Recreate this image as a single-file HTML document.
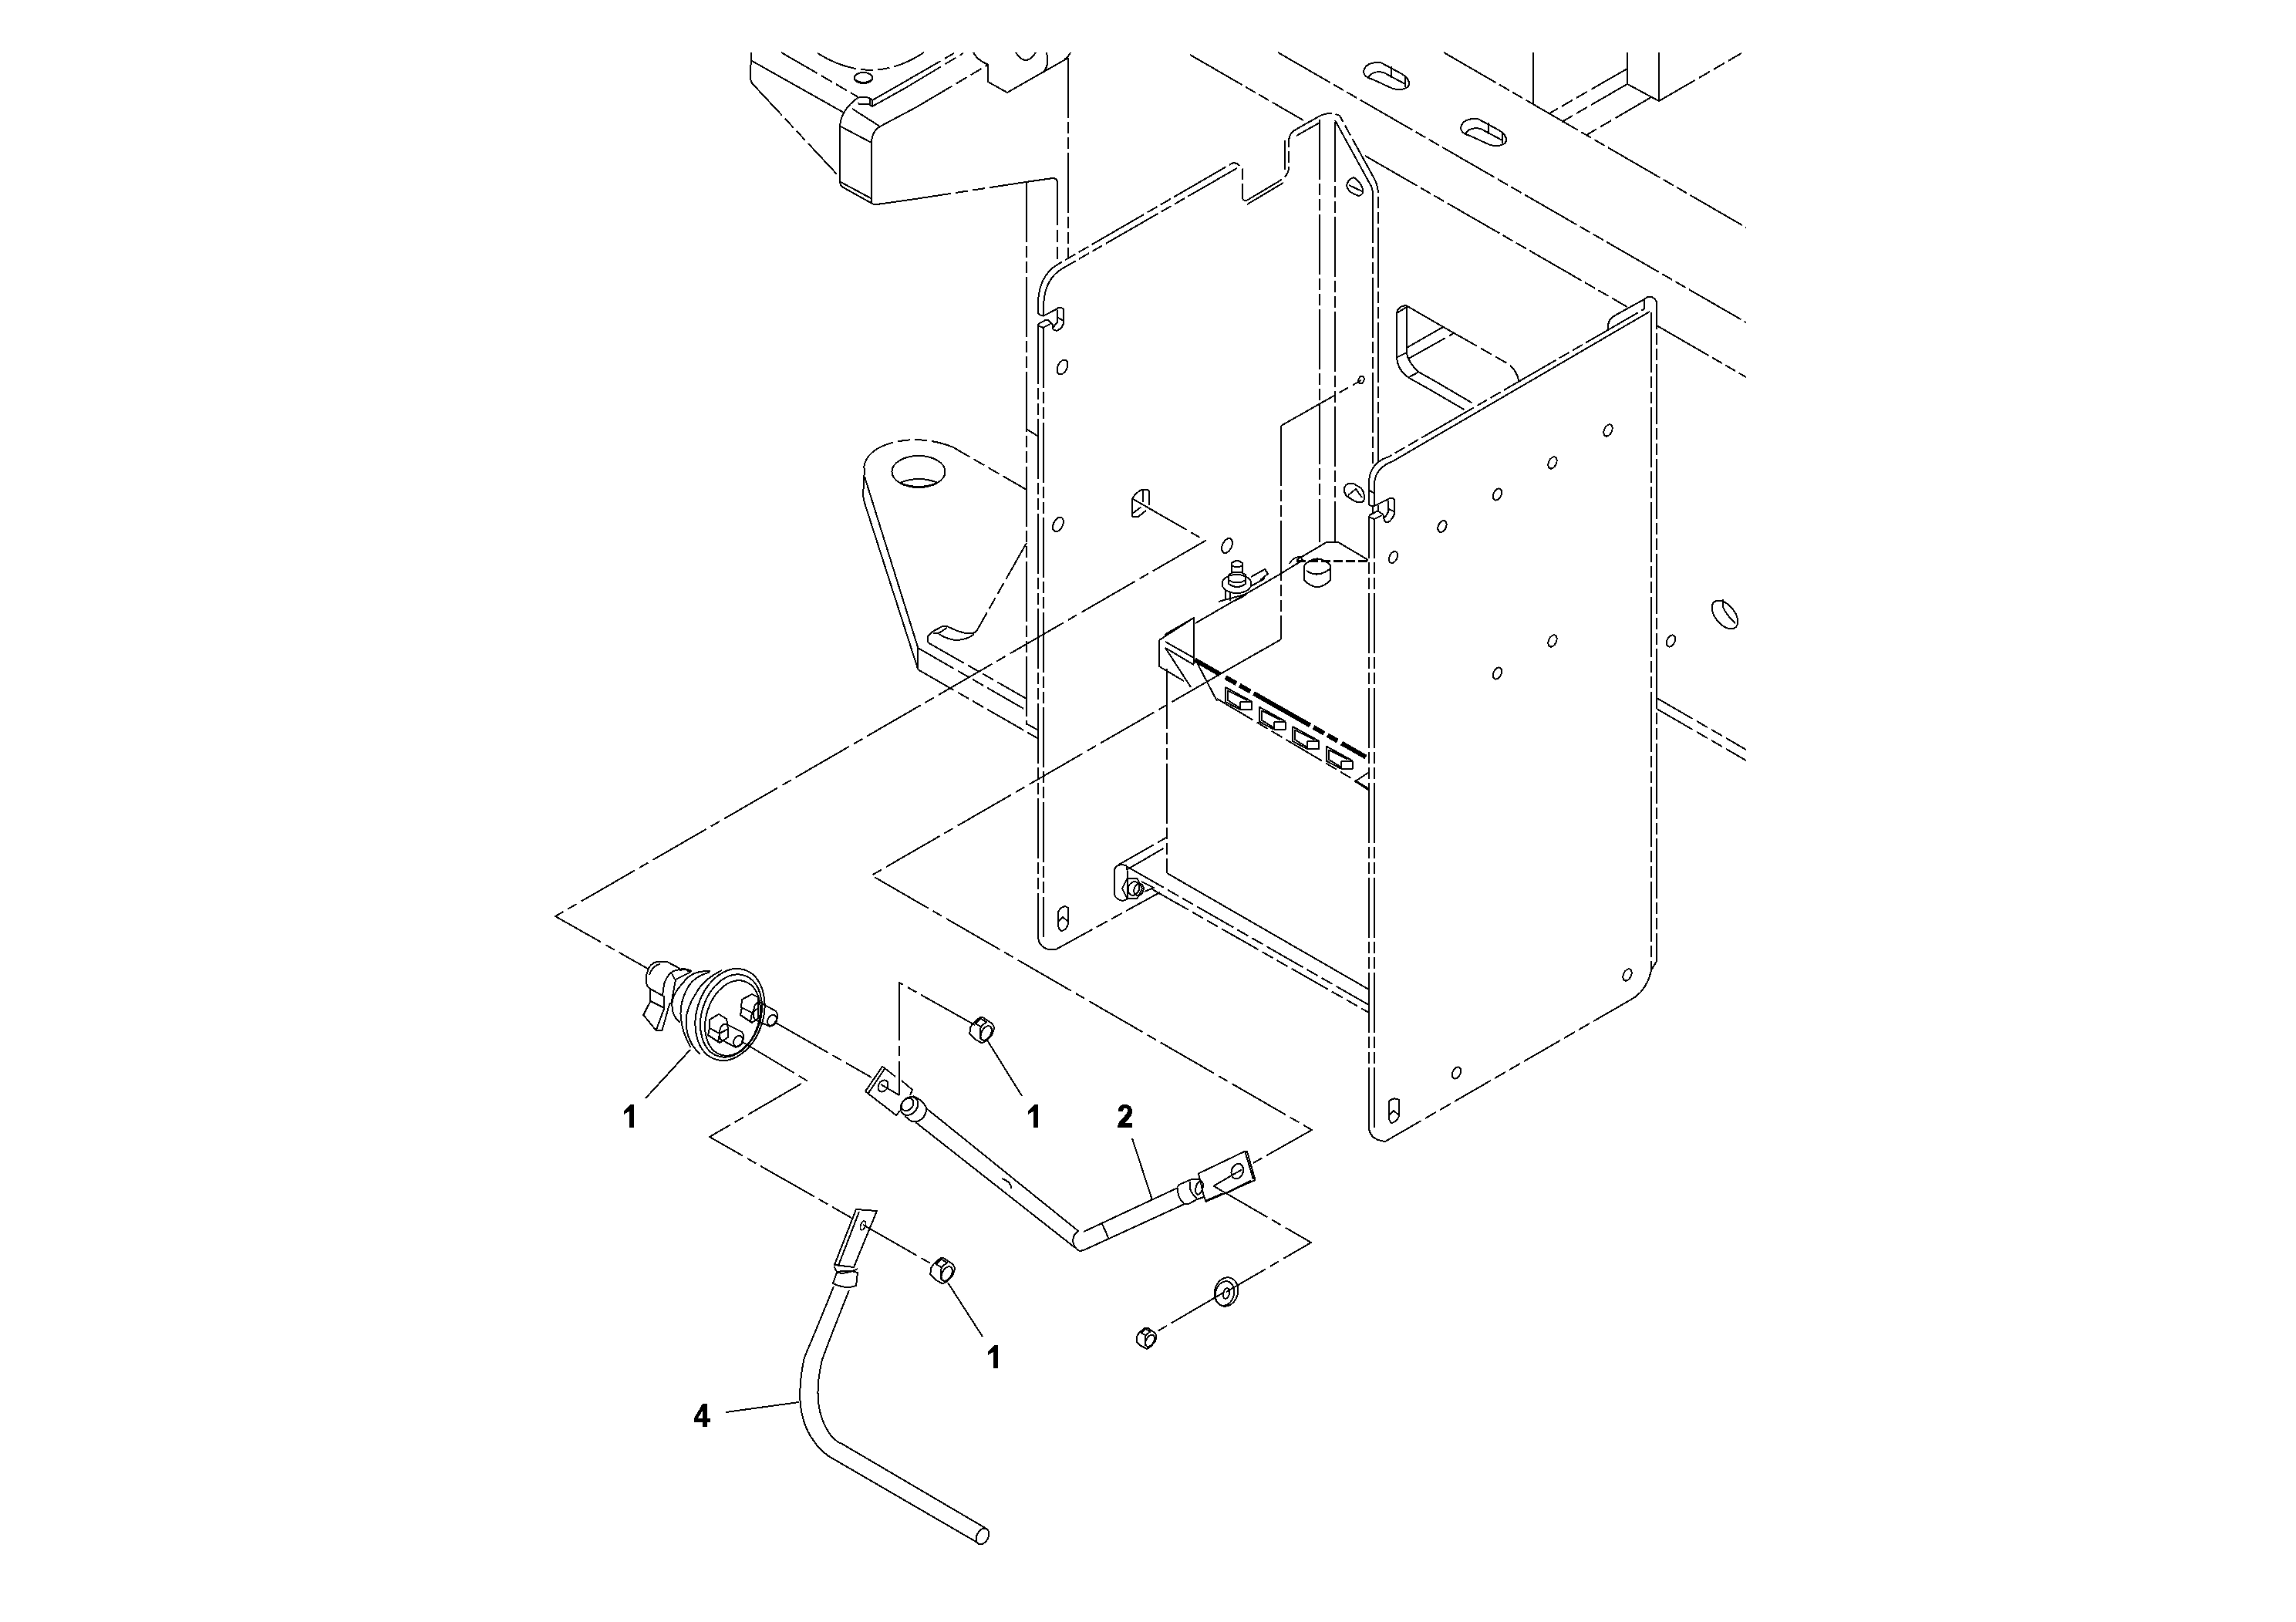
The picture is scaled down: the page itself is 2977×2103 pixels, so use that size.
<!DOCTYPE html>
<html><head><meta charset="utf-8"><style>
html,body{margin:0;padding:0;background:#fff;}
svg{display:block;}
.d{stroke-dasharray:54 6 16 6 16 6;}
.c{stroke-dasharray:80 7 13 7;}
.l{stroke-dasharray:78 5 15 5 15 5;}
.g{fill:#000;stroke:none;}
text{font-family:"Liberation Sans",sans-serif;font-weight:bold;fill:#000;stroke:none;text-anchor:middle;}
</style></head><body>
<svg width="2977" height="2103" viewBox="0 0 2977 2103">
<rect width="2977" height="2103" fill="#fff"/>
<g fill="none" stroke="#000" stroke-width="2" stroke-linejoin="round" shape-rendering="crispEdges">
<path d="M974,68 L973,100 Q973,107 978,111"/>
<path d="M975,79 L1094,146"/>
<path d="M977,110 L1088,229" class="d"/>
<path d="M1013,68 L1113,126" class="d"/>
<path d="M1060,69 Q1130,113 1198,68" class="d"/>
<ellipse cx="1119.5" cy="101" rx="12" ry="7"/>
<path d="M1108,103 Q1119,111 1131,103"/>
<path d="M1113,127 L1116,125.5 L1122,125.5 L1128,127.5 L1131,130 L1131,138 L1126,135 L1114,135 L1113,133"/>
<path d="M1128,128 L1128,136"/>
<path d="M1131,130 L1173,106"/>
<path d="M1173,106 L1237,69" class="d"/>
<path d="M1131,138 L1174,114"/>
<path d="M1174,114 L1249,69" class="d"/>
<path d="M1112,127 Q1091,142 1089,163 L1089,235 Q1089,241 1095,244 L1131,264"/>
<path d="M1090,164 L1130,185"/>
<path d="M1105,141 L1141,164"/>
<path d="M1141,164 Q1131,170 1130,183 L1130,263"/>
<path d="M1141,164 L1188,139"/>
<path d="M1188,139 L1281,84" class="d"/>
<path d="M1281,84 L1281,106 L1306,120 L1385,75"/>
<path d="M1385,75 L1385,334" class="l"/>
<path d="M1262,68 Q1268,79 1282,84"/>
<path d="M1317,68 Q1330,88 1343,68"/>
<path d="M1357,68 Q1361,86 1352,94"/>
<path d="M1388,68 Q1385,74 1380,77"/>
<path d="M1131,264 Q1133,266 1137,265 L1180,259"/>
<path d="M1180,259 L1330,236" class="d"/>
<path d="M1330,236 L1365,231 Q1371,231 1371,238"/>
<path d="M1371,238 L1371,343" class="d"/>
<path d="M1331,236 L1331,940" class="l"/>
<path d="M1090,236 L1131,258"/>
<path d="M1543,71 L1690,156" class="l"/>
<path d="M1770,202 L2110,398" class="l"/>
<path d="M2148,422 L2264,489" class="l"/>
<path d="M1657,68 L2264,418" class="l"/>
<path d="M1872,68 L2264,295" class="l"/>
<path d="M1988,68 L1988,135" class="l"/>
<path d="M2110,68 L2110,109"/>
<path d="M2151,68 L2151,131" class="l"/>
<path d="M2110,109 L2151,131"/>
<path d="M2151,131 L2258,69" class="d"/>
<path d="M2110,89 L2009,147" class="d"/>
<path d="M2110,109 L2025,158" class="d"/>
<path d="M2141,126 L2057,175" class="d"/>
<path d="M2148,905 L2264,972" class="d"/>
<path d="M2148,919 L2264,986" class="d"/>
<ellipse cx="2236.5" cy="797" rx="12.5" ry="21.5" transform="rotate(-40 2236.5 797)"/>
<path d="M2234,777 L2234,787 Q2238,797 2250,808"/>
<path d="M1768,93 Q1770,80 1790,81 L1818,96 Q1830,104 1826,112 Q1820,118 1806,115 L1780,103 Q1768,100 1768,93 Z"/>
<path d="M1774,100 Q1780,91 1794,94 L1822,109"/>
<path d="M1804,86 L1804,101"/>
<path d="M1822,98 L1822,113"/>
<path d="M1894,166 Q1896,153 1916,154 L1944,169 Q1956,177 1952,185 Q1946,191 1932,188 L1906,176 Q1894,173 1894,166 Z"/>
<path d="M1900,173 Q1906,164 1920,167 L1948,182"/>
<path d="M1930,159 L1930,174"/>
<path d="M1948,171 L1948,186"/>
<path d="M1346,406 L1346,392 Q1347,358 1371,343 L1597,212 Q1604,209 1611,219 L1611,257 Q1613,262 1618,259 L1660,234 Q1670,228 1671,218 L1671,182 Q1672,172 1680,168 L1710,151 Q1723,144 1737,150 L1781,230 Q1787,240 1787,252 L1787,598" class="l"/>
<path d="M1353,398 L1353.5,390 Q1356,362 1376,349 L1604,218" class="l"/>
<path d="M1617,265 L1664,237"/>
<path d="M1666,220 L1666,182"/>
<path d="M1681,176 L1711,159"/>
<path d="M1731,156 L1776,238"/>
<path d="M1776,238 Q1780,244 1780,252 L1780,602" class="l"/>
<path d="M1711,155 L1711,703" class="l"/>
<path d="M1731,158 L1731,703" class="l"/>
<path d="M1346,406 Q1348,409 1353,409.6 L1370.7,400.3 Q1374,397 1379,400.7 L1379.2,418.5 Q1378,425 1370.7,428.8 Q1366,428.5 1364.8,426 L1364.8,420.7 L1363.3,419.2 L1359.2,414.8 L1355.9,414.8 L1346,420.3"/>
<path d="M1353,396 L1353,409.6"/>
<path d="M1370.9,401.5 L1370.9,414.8"/>
<path d="M1370.9,411.4 L1378.1,415.5"/>
<path d="M1365.5,424.4 L1370.7,418.1 L1370.7,414.8"/>
<path d="M1347,422.5 L1352.2,424.8 L1362.2,420"/>
<path d="M1346,420 L1346,1215" class="l"/>
<path d="M1353,425 L1353,1215" class="l"/>
<path d="M1346,1215 Q1347,1228 1360,1231 Q1365,1232 1369,1231"/>
<path d="M1369,1231 L1504,1157" class="d"/>
<path d="M1332,557 L1345,565"/>
<path d="M1332,939 L1345,946"/>
<ellipse cx="1377.5" cy="476" rx="6" ry="10" transform="rotate(25 1377.5 476)"/>
<ellipse cx="1372" cy="680" rx="6" ry="10" transform="rotate(25 1372 680)"/>
<ellipse cx="1591" cy="707.5" rx="6" ry="10" transform="rotate(25 1591 707.5)"/>
<ellipse cx="1765" cy="492.5" rx="3.5" ry="5" transform="rotate(20 1765 492.5)"/>
<path d="M1755,230 Q1747,233 1746,241 Q1748,250 1762,254 Q1769,252 1767,245 Q1763,234 1755,230 Z"/>
<path d="M1749,240 L1766,248"/>
<path d="M1468,669.5 L1468,647 Q1471,640 1480.7,634.6 L1488,634.6 L1490.4,637 L1490.4,655 M1468,669.5 L1476.5,669.5 L1486,662"/>
<path d="M1481.7,636 L1481.7,650.7"/>
<path d="M1468.8,665.3 L1479.3,657.6"/>
<path d="M1743,632 Q1747,625 1755,627 L1765,633 Q1771,642 1768,650 Q1762,653 1755,649 L1746,643 Q1742,638 1743,632 Z"/>
<path d="M1748,642 L1758,634 L1766,645"/>
<path d="M1375,1178 Q1380,1173 1385,1177 L1385,1198 Q1383,1206 1376,1207 Q1372,1205 1372,1198 L1372,1182 Z"/>
<path d="M1372,1195 L1378,1189 L1385,1195"/>
<path d="M1775,1462 L1775,668.5" class="l"/>
<path d="M1775,654 L1775,625 Q1776,600 1801,592 L2133,400" class="l"/>
<path d="M1782,1462 L1782,673" class="l"/>
<path d="M1782,656 L1782,626 Q1784,606 1806,598 L2139,404" class="l"/>
<path d="M1806,598 L2139,404"/>
<path d="M2112,399 L2132,388 Q2141,380 2148,391 L2148,1246" class="l"/>
<path d="M2085,427 Q2084,414 2094,409 L2112,399"/>
<path d="M2132,388 L2132,400"/>
<path d="M2141,405 L2141,1257" class="l"/>
<path d="M1775,1462 Q1776,1478 1796,1480"/>
<path d="M1796,1480 L2113,1297" class="d"/>
<path d="M2113,1297 Q2135,1286 2141,1258 L2148,1246"/>
<ellipse cx="2085" cy="558" rx="5" ry="8" transform="rotate(25 2085 558)"/>
<ellipse cx="2013" cy="600" rx="5" ry="8" transform="rotate(25 2013 600)"/>
<ellipse cx="1941.5" cy="641" rx="5" ry="8" transform="rotate(25 1941.5 641)"/>
<ellipse cx="1870" cy="682.5" rx="5" ry="8" transform="rotate(25 1870 682.5)"/>
<ellipse cx="1806.5" cy="722.5" rx="5" ry="8" transform="rotate(25 1806.5 722.5)"/>
<ellipse cx="2013" cy="831" rx="5" ry="8" transform="rotate(25 2013 831)"/>
<ellipse cx="1941.5" cy="873" rx="5" ry="8" transform="rotate(25 1941.5 873)"/>
<ellipse cx="2166.5" cy="831" rx="5" ry="8" transform="rotate(25 2166.5 831)"/>
<ellipse cx="2110" cy="1264" rx="5" ry="8" transform="rotate(25 2110 1264)"/>
<ellipse cx="1888.5" cy="1391" rx="5" ry="8" transform="rotate(25 1888.5 1391)"/>
<path d="M1775,654 Q1777,656.5 1781,656.4 L1800,647.2 Q1803,645 1806,645.7 L1808.3,648.7 L1808.1,666.4 Q1806,672 1802,675.7 Q1799,677.5 1797.6,677.2 Q1794,676 1794,668.7 L1792.4,666.4 L1787.6,663.1 L1785,663.1 L1775,668.3"/>
<path d="M1800,648.7 L1800,662.7"/>
<path d="M1800.7,660.1 L1807.2,663.1"/>
<path d="M1795,672 L1800,664 L1800,662.7"/>
<path d="M1776.1,670.5 L1781.6,673.1 L1791.6,668.3"/>
<path d="M1780,657 L1780,665 M1787,655 L1787,662"/>
<path d="M1775,635.7 L1781.3,639.1"/>
<path d="M1801,1428 Q1807,1422 1814,1426 L1814,1447 Q1811,1455 1804,1456 Q1801,1454 1801,1447 Z"/>
<path d="M1801,1446 L1807,1440 L1814,1446"/>
<path d="M1811,463 L1811,406 Q1812,397 1823,396 L1868,422"/>
<path d="M1868,422 L1955,471.5 Q1966,479 1969.5,494" class="d"/>
<path d="M1811,463 Q1812,480 1827,490 L1852,504"/>
<path d="M1852,504 L1900,532" class="d"/>
<path d="M1824,398 L1824,458 Q1826,470 1839,482 L1862,495"/>
<path d="M1862,495 L1913,525" class="d"/>
<path d="M1811,406 L1824,398"/>
<path d="M1824.5,450.6 L1871.5,423.8"/>
<path d="M1826.4,464.9 L1884.6,432.3" class="d"/>
<path d="M1811,463.6 L1824,457"/>
<path d="M1827,489 L1839,482.5"/>
<path d="M1120,607 C1122,584 1150,571 1187,570 Q1215,571 1236,580 L1331,635" class="d"/>
<ellipse cx="1191" cy="611.5" rx="34.5" ry="20.5"/>
<path d="M1167,626 Q1191,636 1216,626" class="d"/>
<path d="M1167,626 Q1191,616 1216,626"/>
<path d="M1121,607 L1119,643 L1121,652 L1190,867"/>
<path d="M1121,618 L1190,839"/>
<path d="M1331,704 L1268,815" class="d"/>
<path d="M1268,815 Q1265,821 1260,821 L1252,821 L1241,818 L1228,812 L1222,812 L1209,819 L1203,825 L1203,833"/>
<path d="M1210,821 L1217,821 L1228,814"/>
<path d="M1217,822 Q1230,830 1242,830 Q1255,829 1263,822" class="d"/>
<path d="M1190,839 L1190,868"/>
<path d="M1190,840 L1331,921" class="d"/>
<path d="M1203,833 L1331,906" class="d"/>
<path d="M1190,868 L1345,957" class="d"/>
<path d="M1661,552 L1661,829" class="l"/>
<path d="M1661,552 L1765,493" class="c"/>
<path d="M1661,829 L1589,870"/>
<path d="M1550,808 L1657,746"/>
<path d="M1657,746 L1688,727" class="d"/>
<path d="M1503,830 L1548,801 L1548,861 M1503,830 L1503,864 L1535,883 M1511,832 L1548,853 M1511,840 L1548,862 M1511,840 L1544,891 M1553,861 L1578,909"/>
<path d="M1510,823 L1548,801"/>
<path d="M1549,855.5 L1771,981.5" stroke-width="6" stroke-dasharray="38 8 16 5 16 5 84 5 16 5 15 6 38"/>
<path d="M1589.0,891.0 L1589.0,910.0 L1608.0,920.0 L1623.0,920.0 L1623.0,910.0 L1620.0,908.0 L1589.0,891.0 M1608.0,910.0 L1623.0,910.0 M1608.0,910.0 L1608.0,920.0 M1592.0,895.0 L1592.0,908.0 L1608.0,918.0 M1593.0,896.0 L1617.0,908.0"/>
<path d="M1632.5,916.5 L1632.5,935.5 L1651.5,945.5 L1666.5,945.5 L1666.5,935.5 L1663.5,933.5 L1632.5,916.5 M1651.5,935.5 L1666.5,935.5 M1651.5,935.5 L1651.5,945.5 M1635.5,920.5 L1635.5,933.5 L1651.5,943.5 M1636.5,921.5 L1660.5,933.5"/>
<path d="M1676.0,942.0 L1676.0,961.0 L1695.0,971.0 L1710.0,971.0 L1710.0,961.0 L1707.0,959.0 L1676.0,942.0 M1695.0,961.0 L1710.0,961.0 M1695.0,961.0 L1695.0,971.0 M1679.0,946.0 L1679.0,959.0 L1695.0,969.0 M1680.0,947.0 L1704.0,959.0"/>
<path d="M1719.5,967.5 L1719.5,986.5 L1738.5,996.5 L1753.5,996.5 L1753.5,986.5 L1750.5,984.5 L1719.5,967.5 M1738.5,986.5 L1753.5,986.5 M1738.5,986.5 L1738.5,996.5 M1722.5,971.5 L1722.5,984.5 L1738.5,994.5 M1723.5,972.5 L1747.5,984.5"/>
<path d="M1578,906 L1774,1022" class="d"/>
<path d="M1774,1002 L1757,1013 L1774,1024"/>
<path d="M1513,867 L1513,1132" class="l"/>
<path d="M1513,1132 L1775,1283"/>
<path d="M1597,742 L1597,730 Q1604,724 1611,730 L1611,742"/>
<path d="M1597,733 Q1604,738 1611,733"/>
<path d="M1593,745 L1593,757 Q1604,765 1615,757 L1615,745 Q1604,738 1593,745"/>
<path d="M1593,752 Q1604,759 1615,752"/>
<ellipse cx="1603.5" cy="757" rx="19" ry="12"/>
<path d="M1589,766 L1589,777 M1595,768 L1595,779 M1580,780 L1617,770 M1601,779 L1616,771"/>
<path d="M1622,748 L1640,738 L1644,744 L1634,752 M1622,760 L1640,750"/>
<path d="M1691,733 L1691,752 Q1708,770 1725,752 L1725,733 Q1708,716 1691,733"/>
<path d="M1694,740 Q1708,750 1724,738"/>
<path d="M1681,726 L1720,703 L1735,703 L1774,726"/>
<path d="M1681,727 L1774,727" stroke-width="3" stroke-dasharray="12 4"/>
<path d="M1672,731 Q1676,722 1686,722 L1689,726"/>
<path d="M1445,1128 Q1446,1122 1454,1121 L1460,1122 Q1463,1126 1462,1165 Q1458,1169 1452,1167 Q1445,1164 1445,1158 Z"/>
<path d="M1481.0,1152.0 L1474.5,1164.9 L1461.5,1164.9 L1455.0,1152.0 L1461.5,1139.1 L1474.5,1139.1 Z"/>
<ellipse cx="1469.95" cy="1152" rx="7.15" ry="8.9375" transform="rotate(20 1469.95 1152)"/>
<ellipse cx="1476.5" cy="1153.5" rx="6" ry="8" transform="rotate(20 1476.5 1153.5)"/>
<path d="M1449,1122 L1512,1086" class="d"/>
<path d="M1462,1127 L1512,1098" class="d"/>
<path d="M1462,1124 L1775,1303" class="d"/>
<path d="M1494,1153 L1775,1313" class="d"/>
<path d="M1480,1143 L1496,1151 L1484,1156"/>
<path d="M1469,647 L1563,701 L720,1188 L840,1256" class="c"/>
<path d="M1589,870 L1130,1135 L1701,1465 L1623,1509" class="c"/>
<path d="M1610,1516.5 L1573,1538"/>
<path d="M1574,1538 L1700,1611 L1590,1675" class="c"/>
<path d="M1588,1675 L1499,1727" class="c"/>
<path d="M1264,1329 L1166,1274 L1166,1420" class="c"/>
<path d="M1004,1325 L1130,1397" class="c"/>
<path d="M961,1350 L1046,1401 L920,1474 L1104,1579" class="c"/>
<path d="M1119,1588 L1210,1640" class="c"/>
<ellipse cx="946.5" cy="1315.5" rx="43" ry="61" transform="rotate(18 946.5 1315.5)"/>
<ellipse cx="948" cy="1317" rx="38" ry="55" transform="rotate(18 948 1317)"/>
<ellipse cx="950" cy="1320" rx="34" ry="50" transform="rotate(18 950 1320)"/>
<path d="M936,1258 Q912,1270 903,1287 Q889,1308 889.6,1326 Q890,1350 907.7,1367"/>
<path d="M920,1260.5 Q900,1266 892,1280 Q881,1300 882.7,1318 Q884,1338 895.6,1358"/>
<path d="M921,1259 Q897,1258 886,1274 Q871,1290 871.4,1302 Q871,1318 881.8,1325.5"/>
<path d="M897,1259 L890,1256.5 L881,1258"/>
<path d="M840,1258 Q843,1249 852,1247 L865,1247 L882,1256"/>
<path d="M840,1258 Q837,1266 838,1274 Q839,1280 843,1282"/>
<path d="M842,1264 Q845,1253 856,1249.5"/>
<path d="M843,1282 L861,1292 L861.5,1307 L843.4,1298 Z"/>
<path d="M843.4,1298 L834.3,1316 L850.7,1336 L858.5,1336 L868,1302 L870.6,1300"/>
<path d="M861,1308 L851,1335"/>
<path d="M859,1291 L861,1276 Q865,1264 873,1259 L887,1255.5 L894.8,1260.7 L876,1270 L870.6,1300"/>
<path d="M871,1262 L875,1270"/>
<path d="M962,1296 L975,1289 L983,1293 L983,1307 L975,1313 L961,1306 Z"/>
<path d="M962,1306 L960,1316 L975,1326 L983,1320 L983,1307"/>
<path d="M975,1313 L973,1325"/>
<path d="M978,1305 Q980,1299 986,1300 L1006,1311 Q1010,1316 1006,1326 L998,1331 L979,1322 Q975,1318 978,1305"/>
<ellipse cx="1001" cy="1323" rx="5.5" ry="7.5" transform="rotate(25 1001 1323)"/>
<path d="M920,1322 L932,1315 L942,1321 L944,1334 L933,1340 L920,1333 Z"/>
<path d="M920,1333 L918,1342 L933,1352 L944,1345 L944,1334"/>
<path d="M933,1340 L931,1351"/>
<path d="M934,1333 Q936,1327 942,1328 L962,1338 Q966,1343 962,1353 L954,1358 L935,1348 Q931,1344 934,1333"/>
<ellipse cx="957" cy="1350" rx="5.5" ry="7.5" transform="rotate(25 957 1350)"/>
<path d="M895,1361 L837,1424"/>
<path d="M1122,1415 L1144,1383 L1146,1384 L1161,1396"/>
<path d="M1169,1401 L1183,1413 L1180,1420"/>
<path d="M1122,1415 L1162,1446 L1167,1440"/>
<path d="M1126,1417 L1147,1386"/>
<ellipse cx="1145" cy="1408" rx="6" ry="8" transform="rotate(30 1145 1408)"/>
<path d="M1166,1420 L1142,1406"/>
<ellipse cx="1179" cy="1434" rx="10" ry="13" transform="rotate(40 1179 1434)"/>
<ellipse cx="1176.5" cy="1432" rx="7" ry="9" transform="rotate(40 1176.5 1432)"/>
<path d="M1184,1421 Q1196,1426 1201,1436 Q1202,1448 1190,1454 L1182,1454 L1173,1447"/>
<path d="M1201,1437 L1398,1596 Q1392,1600 1391,1608 Q1392,1619 1400,1622 L1405,1621 L1536,1561"/>
<path d="M1187,1455 L1393,1617"/>
<path d="M1405,1597 L1527,1540"/>
<path d="M1429,1587 Q1434,1597 1437,1605"/>
<path d="M1299,1528 Q1312,1533 1311,1541"/>
<path d="M1527,1540 Q1526,1552 1535,1560.5 L1542,1560.5 L1552,1555 L1561,1552"/>
<path d="M1527,1539 Q1528,1536 1531,1535 L1545,1529 L1555,1528.5"/>
<path d="M1543,1532 L1543,1541 Q1545,1548 1552,1554"/>
<ellipse cx="1555" cy="1540" rx="4.5" ry="9" transform="rotate(15 1555 1540)"/>
<path d="M1554,1521.5 L1613.5,1493 L1617,1493 L1627.5,1530 L1563.5,1558 L1561,1551 L1556,1530 Z"/>
<path d="M1614.6,1494 L1625,1529"/>
<path d="M1592,1546 L1622,1531 M1564,1557 L1585,1548" stroke-width="3"/>
<ellipse cx="1604.3" cy="1518.6" rx="7.5" ry="10" transform="rotate(20 1604.3 1518.6)"/>
<ellipse cx="1590" cy="1675" rx="15" ry="19" transform="rotate(15 1590 1675)"/>
<ellipse cx="1588" cy="1677" rx="12" ry="16" transform="rotate(15 1588 1677)"/>
<ellipse cx="1590" cy="1677" rx="4" ry="7" transform="rotate(15 1590 1677)"/>
<path d="M1476.7,1728.4 L1484.4,1721.6 L1487.9,1721.6 L1497.7,1728.3 L1499.3,1731.3 L1499.3,1734.3 L1497.7,1739.3 L1492.0,1745.9 L1486.9,1748.9 L1479.3,1744.9 L1473.5,1739.1 L1474.3,1732.3 Z"/>
<path d="M1479.9,1728.3 L1485.4,1722.9 L1491.4,1726.5 L1485.4,1731.3 Z"/>
<path d="M1485.4,1731.3 L1484.9,1744.8"/>
<ellipse cx="1491.1" cy="1738.3" rx="4.9" ry="8.2" transform="rotate(30 1491.1 1738.3)"/>
<path d="M1261.0,1327.5 L1270.4,1319.2 L1274.7,1319.2 L1286.7,1327.3 L1288.6,1331.0 L1288.6,1334.7 L1286.7,1340.8 L1279.7,1348.8 L1273.5,1352.5 L1264.2,1347.6 L1257.2,1340.5 L1258.1,1332.2 Z"/>
<path d="M1264.9,1327.3 L1271.6,1320.8 L1279.0,1325.1 L1271.6,1331.0 Z"/>
<path d="M1271.6,1331.0 L1271.0,1347.5"/>
<ellipse cx="1278.6" cy="1339.5" rx="6.0" ry="10.0" transform="rotate(30 1278.6 1339.5)"/>
<path d="M1279,1347 L1325,1421"/>
<path d="M1210.0,1639.5 L1219.4,1631.2 L1223.7,1631.2 L1235.7,1639.3 L1237.6,1643.0 L1237.6,1646.7 L1235.7,1652.8 L1228.7,1660.8 L1222.5,1664.5 L1213.2,1659.6 L1206.2,1652.5 L1207.1,1644.2 Z"/>
<path d="M1213.9,1639.3 L1220.6,1632.8 L1228.0,1637.1 L1220.6,1643.0 Z"/>
<path d="M1220.6,1643.0 L1220.0,1659.5"/>
<ellipse cx="1227.6" cy="1651.5" rx="6.0" ry="10.0" transform="rotate(30 1227.6 1651.5)"/>
<path d="M1229,1663 L1274,1733"/>
<path d="M1110,1568 L1137,1570 L1107,1643 L1082,1640 Z"/>
<path d="M1114,1571 L1087,1641"/>
<ellipse cx="1119" cy="1589" rx="3" ry="6" transform="rotate(20 1119 1589)"/>
<path d="M1082,1642 Q1083,1650 1091,1651 Q1103,1650 1112,1645"/>
<path d="M1080,1664 L1085,1650 Q1096,1645 1112,1650 L1110,1667 Q1097,1672 1080,1664 Z"/>
<path d="M1081,1668 Q1060,1720 1043,1760 C1034,1800 1034,1840 1055,1868 Q1065,1884 1083,1893 L1269,2001"/>
<path d="M1101,1673 Q1080,1725 1066,1763 C1057,1800 1058,1836 1078,1862 Q1087,1871 1090,1871 L1279,1982"/>
<ellipse cx="1274" cy="1992" rx="7.5" ry="11" transform="rotate(28 1274 1992)"/>
<path d="M941,1831 L1036,1818"/>
<path class="g" d="M817,1432 L822,1432 L822,1462 L816,1462 L816,1440.6 L809,1445 L809,1440 Z"/>
<path class="g" d="M1341,1432 L1346,1432 L1346,1462 L1340,1462 L1340,1440.6 L1333,1445 L1333,1440 Z"/>
<path class="g" d="M1289,1744 L1294,1744 L1294,1774 L1288,1774 L1288,1752.6 L1281,1757 L1281,1752 Z"/>
<path class="g" d="M1449,1462 L1468,1462 L1468,1456 L1458,1456 L1464,1450 Q1468,1446 1468,1441 Q1468,1432 1458.5,1432 Q1450,1432 1450,1441 L1456,1441.5 Q1456,1437 1459,1437 Q1462,1437 1462,1440 Q1462,1443 1458,1447 L1452,1453 Q1449,1457 1449,1462 Z"/>
<path class="g" fill-rule="evenodd" d="M911,1820 L917,1820 L917,1839 L921,1839 L921,1844 L917,1844 L917,1850 L911,1850 L911,1844 L900,1844 L900,1838.5 Z M905,1839 L911,1829 L911,1839 Z"/>
<path d="M1468,1476 L1494,1556"/>
</g>
</svg>
</body></html>
